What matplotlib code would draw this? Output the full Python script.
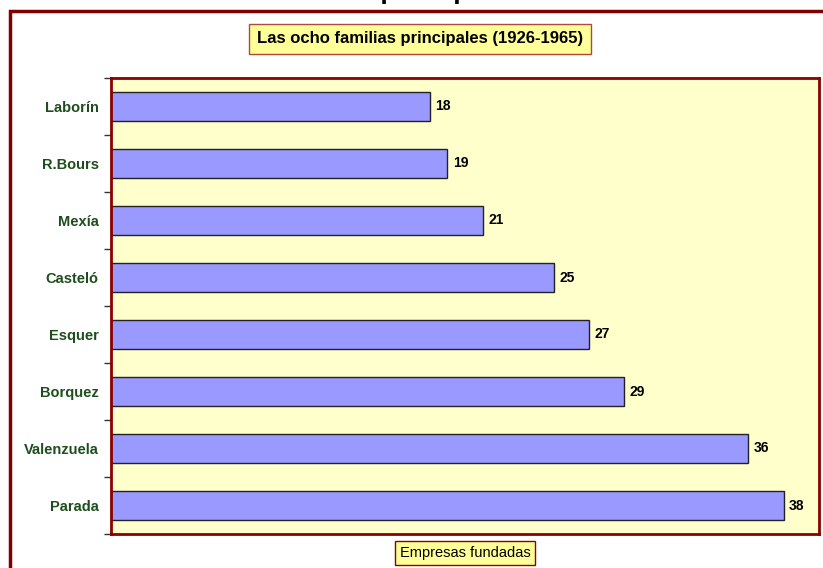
import matplotlib.pyplot as plt
from matplotlib.patches import Rectangle

plt.rcParams['font.family'] = ['Liberation Sans', 'DejaVu Sans']

# datos (de arriba hacia abajo)
familias = ['Laborín', 'R.Bours', 'Mexía', 'Casteló', 'Esquer', 'Borquez', 'Valenzuela', 'Parada']
empresas = [18, 19, 21, 25, 27, 29, 36, 38]

W, H = 823, 568
fig = plt.figure(figsize=(W / 100, H / 100), dpi=100)
fig.patch.set_facecolor('white')

# area del grafico en pixeles
left, right, top, bottom = 111, 819, 78, 534
ax = fig.add_axes([left / W, 1 - bottom / H, (right - left) / W, (bottom - top) / H])
ax.set_facecolor('#FFFFCC')

pos = list(range(len(familias)))
bars = ax.barh(pos, empresas, height=0.51, color='#9999FF', edgecolor='#222222', linewidth=1)
ax.bar_label(bars, padding=4, fontsize=10, fontweight='bold', color='black')

ax.set_xlim(0, 40)
ax.set_ylim(len(familias) - 0.5, -0.5)
ax.set_xticks([])

# marcas entre categorias, etiquetas al centro
ax.set_yticks([i - 0.5 for i in range(len(familias) + 1)])
ax.set_yticklabels([])
ax.set_yticks(pos, minor=True)
ax.set_yticklabels(familias, minor=True, fontsize=10.5, fontweight='bold', color='#1E4D1E')
ax.tick_params(axis='y', which='major', length=5, width=1, color='#333333')
ax.tick_params(axis='y', which='minor', length=0, pad=9)

for s in ax.spines.values():
    s.set_color('#8B0000')
    s.set_linewidth(2)

# titulo interior
fig.text(420 / W, 1 - 39 / H, 'Las ocho familias principales (1926-1965)',
         ha='center', va='center', fontsize=12, fontweight='bold',
         bbox=dict(boxstyle='square,pad=0.45', facecolor='#FFFF99', edgecolor='#B0483C', linewidth=1))

# etiqueta del eje
fig.text(465 / W, 1 - 553 / H, 'Empresas fundadas', ha='center', va='center', fontsize=10.5,
         bbox=dict(boxstyle='square,pad=0.35', facecolor='#FFFF99', edgecolor='#8B0000', linewidth=1))

# titulo principal, cortado por arriba
fig.text(149 / W, 1 + 1.5 / H, 'Las ocho familias principales', ha='left', va='baseline',
         fontsize=19.3, fontweight='bold')

# marco exterior
fig.patches.append(Rectangle((10 / W, -0.05), 1.1, 1 - 11 / H + 0.05, transform=fig.transFigure,
                             fill=False, edgecolor='#800000', linewidth=2.5, clip_on=False))

fig.savefig('out.png', dpi=100)
